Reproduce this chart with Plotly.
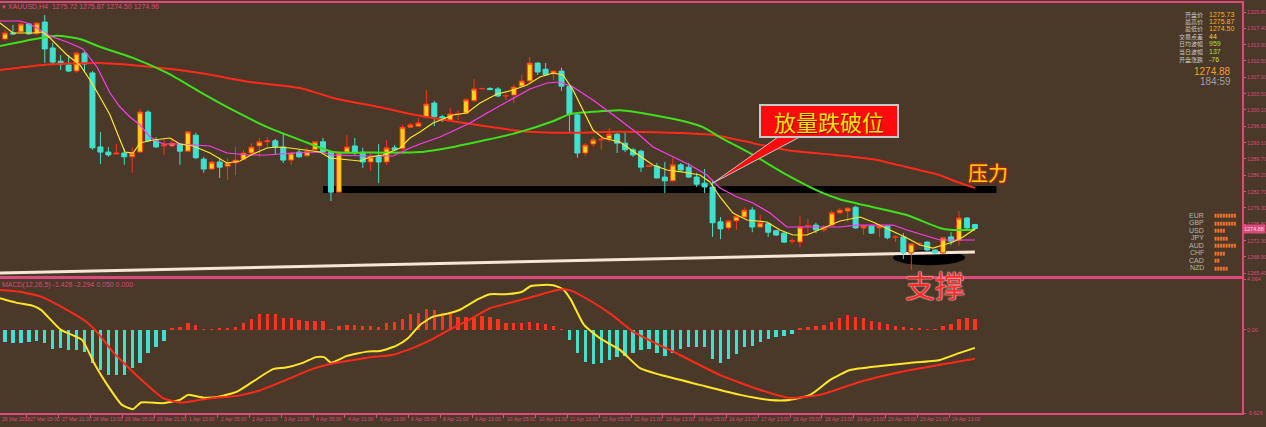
import plotly.graph_objects as go

BG = "#4a3829"
PINK = "#dc4a7c"
BULL_FILL = "#ffd21e"
BULL_LINE = "#ff3214"
BEAR = "#40e0d0"

# ---------------- candles (H4 XAUUSD) ----------------
bars = list(range(123))
opens = [1315.1,1316.4,1316.6,1318.3,1316.2,1318.7,1313.2,1310.4,1309.6,1308.3,1312.1,1307.9,1292.2,1291.1,1290.7,1290.9,1290.1,1291.1,1299.6,1293.5,
         1292.4,1292.4,1292.8,1291.3,1294.7,1289.6,1287.5,1289.0,1288.1,1288.8,1289.6,1290.9,1292.4,1293.3,1293.5,1292.2,1289.4,1291.1,1290.3,1291.6,
         1293.3,1291.1,1282.6,1291.1,1292.4,1291.1,1289.0,1290.3,1289.0,1292.0,1291.8,1296.4,1296.6,1298.6,1301.5,1298.6,1297.9,1299.2,1299.4,1302.0,
         1304.5,1304.6,1304.5,1303.0,1303.2,1305.1,1306.2,1310.0,1308.7,1307.7,1308.3,1305.1,1299.0,1290.9,1292.8,1293.7,1293.9,1294.9,1293.0,1291.6,
         1291.3,1288.1,1288.1,1285.8,1285.0,1288.4,1287.9,1285.8,1284.5,1283.7,1276.3,1275.0,1276.5,1277.3,1278.8,1275.2,1275.9,1274.4,1273.9,1272.2,
         1272.0,1275.4,1275.6,1274.6,1275.6,1278.2,1278.6,1279.4,1275.0,1275.4,1275.0,1275.4,1273.0,1273.1,1269.7,1271.6,1272.0,1270.3,1269.7,1273.1,
         1272.4,1277.1,1275.72]
highs = [1317.0,1318.1,1318.7,1318.5,1318.7,1320.2,1314.3,1311.7,1311.7,1312.4,1312.4,1308.3,1295.4,1292.2,1292.8,1291.8,1292.2,1300.3,1300.0,1294.3,
         1294.1,1294.1,1293.0,1295.6,1295.2,1290.1,1289.2,1289.9,1289.9,1292.2,1291.6,1293.0,1294.1,1294.3,1293.9,1295.2,1291.1,1291.6,1292.0,1293.3,
         1294.1,1291.3,1291.1,1294.7,1294.1,1292.0,1291.1,1292.8,1293.7,1292.6,1296.9,1297.3,1298.3,1304.3,1302.0,1299.0,1300.5,1300.0,1302.6,1306.6,
         1304.8,1304.9,1304.9,1303.6,1305.4,1307.5,1311.3,1310.2,1310.0,1308.5,1309.0,1305.4,1299.4,1293.0,1294.3,1294.1,1296.2,1295.2,1295.2,1292.0,
         1291.6,1288.4,1288.8,1289.0,1289.9,1288.8,1288.8,1286.7,1287.5,1285.2,1277.3,1276.7,1277.8,1279.4,1279.4,1277.8,1276.1,1274.6,1274.1,1272.9,
         1277.5,1276.9,1276.1,1275.6,1278.8,1279.2,1279.4,1279.7,1275.4,1275.6,1275.4,1275.4,1273.5,1273.9,1271.6,1272.0,1272.2,1270.5,1273.1,1274.1,
         1278.6,1277.3,1275.87]
lows = [1314.7,1316.0,1316.4,1316.0,1316.0,1310.0,1309.6,1308.5,1308.1,1307.9,1308.1,1291.6,1288.6,1290.1,1290.5,1288.4,1286.7,1291.0,1293.3,1292.0,
        1290.5,1292.2,1288.4,1291.1,1289.6,1286.7,1287.3,1285.6,1285.2,1286.2,1289.4,1290.7,1290.1,1292.2,1290.7,1288.8,1288.4,1289.9,1290.1,1291.3,
        1290.9,1280.7,1282.6,1290.9,1290.5,1287.7,1287.1,1284.5,1288.4,1291.3,1291.6,1296.2,1296.4,1298.3,1296.6,1297.5,1297.5,1297.9,1299.2,1301.7,
        1304.3,1304.2,1302.8,1302.2,1301.5,1304.9,1306.0,1307.5,1307.3,1306.4,1304.1,1295.4,1289.9,1290.3,1292.2,1291.6,1293.3,1290.9,1291.1,1290.1,
        1286.9,1287.9,1285.6,1282.4,1284.8,1287.1,1285.6,1283.7,1282.4,1273.1,1272.6,1274.6,1274.6,1277.1,1274.1,1275.0,1273.1,1273.3,1271.8,1271.6,
        1270.9,1273.7,1273.9,1274.1,1275.4,1278.0,1276.3,1274.8,1273.5,1273.7,1273.1,1272.6,1272.0,1268.4,1266.1,1271.2,1270.1,1269.5,1269.5,1271.4,
        1271.2,1274.8,1274.50]
closes = [1316.4,1316.2,1318.3,1316.2,1318.5,1313.0,1310.2,1309.8,1308.3,1312.1,1309.8,1292.0,1291.1,1290.5,1290.9,1290.1,1290.9,1299.6,1293.5,1292.2,
          1292.6,1293.0,1291.3,1295.4,1289.9,1287.5,1289.0,1287.9,1288.8,1289.4,1290.9,1292.2,1293.3,1293.5,1292.2,1289.4,1290.9,1290.1,1291.3,1293.3,
          1291.1,1282.6,1290.9,1292.2,1290.9,1289.0,1290.1,1289.0,1292.0,1291.6,1296.4,1296.9,1297.3,1301.3,1298.6,1297.9,1299.2,1299.3,1302.2,1304.5,
          1304.6,1304.4,1303.0,1303.1,1304.9,1306.2,1310.0,1308.1,1307.5,1308.3,1305.1,1299.2,1290.9,1292.6,1293.7,1293.8,1294.9,1293.0,1291.6,1290.5,
          1287.9,1288.2,1285.6,1285.0,1288.4,1287.3,1285.8,1284.3,1283.7,1276.1,1274.8,1276.5,1277.5,1278.8,1275.2,1276.1,1274.1,1273.5,1272.0,1272.3,
          1275.2,1275.5,1274.6,1275.0,1278.2,1278.8,1279.2,1275.0,1275.4,1273.9,1275.4,1272.9,1273.1,1269.7,1271.6,1271.7,1270.3,1269.7,1272.9,1272.2,
          1277.1,1275.0,1274.88]

# ---------------- moving averages ----------------
ma_red_x = [-0.63,4.8,11.9,18.2,24.5,30.8,37.1,41.3,47.5,52.2,64.8,71.1,77.4,83.6,89.3,94.1,98.4,104.4,109.2,113.5,117.6,119.7,122.0]
ma_red_y = [1308.5,1309.6,1310.0,1309.2,1307.9,1306.0,1304.7,1302.6,1300.5,1298.8,1295.6,1295.2,1295.4,1295.2,1294.7,1293.0,1291.5,1290.5,1289.6,1287.9,1286.2,1284.8,1283.5]

ma_green_x = [-0.63,6.5,9.4,12.0,16.1,20.4,24.5,28.7,33.0,37.1,41.3,45.5,52.2,56.4,60.6,64.8,69.0,71.1,75.2,77.4,81.5,85.8,87.8,89.9,94.1,98.4,102.6,105.0,109.2,113.5,117.6,118.9,122.0]
ma_green_y = [1313.6,1315.8,1315.1,1313.4,1311.1,1307.9,1303.9,1300.0,1296.4,1293.7,1291.1,1291.0,1291.1,1292.2,1293.7,1295.4,1297.7,1299.2,1299.8,1300.0,1299.0,1297.5,1296.4,1294.3,1290.5,1286.2,1282.6,1281.1,1279.4,1277.7,1275.0,1274.6,1274.6]

ma_mag_x = [-0.63,1.89,2.77,4.03,5.66,7.80,9.81,11.57,13.21,14.47,15.72,16.98,18.24,19.87,22.01,25.79,27.92,30.82,32.96,36.23,
            39.62,41.26,45.53,48.81,50.94,52.20,54.72,58.49,60.63,63.14,66.04,68.18,69.81,71.45,73.96,77.36,79.50,81.51,84.03,86.16,
            88.30,89.94,92.08,94.09,96.23,98.36,100.38,102.52,105.03,107.17,110.06,111.70,113.46,115.47,117.61,119.75,122.01]
ma_mag_y = [1318.93,1318.93,1318.51,1317.45,1315.75,1314.47,1312.99,1309.17,1303.65,1300.67,1298.55,1296.85,1294.30,1292.82,1292.82,1292.39,1290.91,1290.48,1290.48,1290.91,
            1291.12,1290.48,1290.27,1290.27,1291.97,1292.82,1294.30,1297.28,1299.40,1301.74,1304.50,1305.77,1305.98,1304.92,1302.16,1297.91,1295.15,1292.18,1290.06,1288.36,
            1286.24,1283.48,1281.57,1280.29,1278.17,1275.20,1275.20,1275.20,1275.20,1275.62,1275.62,1275.62,1274.56,1273.50,1272.44,1272.44,1272.44]

ma_yel_x = [-0.63,1.01,3.52,4.78,5.66,7.80,9.43,10.69,11.95,13.21,14.47,15.09,16.10,16.98,18.62,20.75,22.01,23.65,25.79,27.92,
            29.56,31.19,32.96,34.21,35.85,37.99,39.62,40.88,42.52,44.65,45.91,47.55,49.69,50.94,52.20,53.84,56.35,58.11,59.75,61.89,
            63.90,65.66,67.30,68.93,70.19,71.45,72.70,73.96,75.22,77.36,79.50,81.51,83.27,85.28,87.42,88.68,89.94,91.57,93.33,95.85,
            97.48,99.12,100.88,102.89,105.03,107.55,109.18,111.32,113.46,115.09,116.73,117.99,119.25,120.50,122.01]
ma_yel_y = [1318.51,1316.38,1316.38,1316.60,1315.32,1311.71,1309.59,1306.41,1302.80,1298.98,1293.67,1291.12,1290.91,1293.03,1293.67,1294.09,1292.82,1292.39,1290.91,1288.79,
            1289.21,1290.70,1291.97,1292.18,1291.97,1291.54,1291.12,1289.85,1289.63,1289.21,1290.06,1290.48,1291.97,1294.09,1295.37,1297.28,1298.98,1299.40,1301.52,1303.43,
            1304.28,1305.34,1307.04,1307.89,1307.47,1304.28,1300.04,1295.79,1294.09,1293.24,1290.70,1288.36,1287.30,1286.87,1286.24,1284.75,1281.57,1278.17,1276.68,1276.26,
            1274.56,1273.50,1273.50,1274.99,1276.47,1277.32,1276.26,1274.56,1272.86,1271.38,1270.74,1271.38,1272.01,1273.07,1274.77]

# ---------------- MACD ----------------
macd_hist = [-0.93,-1.06,-1.06,-0.93,-0.85,-1.06,-1.53,-1.46,-1.59,-1.59,-1.73,-2.65,-3.19,-3.58,-3.58,-3.58,-3.05,-2.65,-1.85,-1.33,
             -0.85,0.08,0.20,0.58,0.40,0.05,0.05,0.08,0.08,0.21,0.53,0.85,1.26,1.30,1.26,0.98,0.98,0.80,0.74,0.74,
             0.72,0.05,0.32,0.40,0.40,0.32,0.32,0.26,0.53,0.62,0.88,1.26,1.33,1.65,1.60,1.38,1.26,1.06,1.06,1.06,
             1.12,1.06,0.85,0.58,0.53,0.53,0.62,0.53,0.48,0.32,0.04,-0.79,-1.81,-2.52,-2.71,-2.61,-2.39,-2.17,-2.07,-1.81,
             -1.6,-1.5,-1.8,-2.1,-1.8,-1.5,-1.4,-1.4,-1.4,-2.3,-2.6,-2.3,-1.9,-1.4,-1.3,-0.95,-0.75,-0.55,-0.45,-0.3,
             0.1,0.2,0.3,0.4,0.65,0.95,1.2,1.05,0.95,0.75,0.65,0.45,0.35,0.2,0.1,0.1,0.05,0.05,0.3,0.45,
             0.85,0.95,0.86]
macd_main_x = [-0.63,1.38,3.52,4.53,7.04,9.69,11.19,12.70,14.72,16.10,17.11,19.87,22.01,23.02,25.03,27.04,29.18,31.19,33.71,35.35,
               37.36,39.12,40.13,41.01,43.02,45.53,47.17,49.18,50.69,52.20,53.84,55.85,57.36,59.50,61.01,63.02,65.03,66.16,67.67,68.93,
               70.19,71.19,72.83,74.84,77.36,79.87,82.4,87.4,92.5,96.2,98.7,101.3,103.8,106.3,110.1,113.8,117.6,120.1,122.0]
macd_main_y = [2.53,2.18,1.92,1.60,0.0,-0.79,-2.63,-4.22,-5.98,-6.32,-5.79,-5.84,-5.58,-5.18,-5.40,-5.31,-4.92,-4.12,-3.13,-3.0,
               -2.65,-2.17,-2.17,-2.61,-2.07,-1.73,-1.68,-1.27,-0.66,0.40,1.06,1.33,1.65,2.45,2.85,2.85,3.05,3.51,3.59,3.57,
               3.25,2.40,0.40,-0.66,-1.59,-3.05,-3.58,-4.38,-5.18,-5.58,-5.58,-5.18,-3.99,-3.19,-2.87,-2.63,-2.39,-1.83,-1.43]
macd_sig_x = [-0.63,1.89,4.53,7.04,10.19,11.70,13.71,15.85,17.86,19.87,22.01,24.03,26.04,29.18,32.20,35.35,38.36,40.50,45.53,48.68,
              50.69,53.33,55.85,58.36,61.01,64.03,66.16,69.18,70.19,71.19,73.84,76.35,79.0,84.9,89.9,95.0,98.7,102.5,107.5,112.6,
              117.6,122.0]
macd_sig_y = [3.19,3.05,2.66,1.86,0.67,-0.27,-1.85,-3.19,-4.38,-5.44,-5.79,-5.63,-5.44,-5.26,-4.79,-3.99,-3.19,-2.78,-2.21,-2.0,
              -1.59,-0.88,0.0,0.80,1.73,2.25,2.61,3.14,3.25,3.14,2.25,1.20,-0.13,-2.0,-3.58,-4.79,-5.42,-5.18,-4.15,-3.35,
              -2.78,-2.29]

# ---------------- axes text ----------------
price_ticks = [1320.80,1317.40,1313.90,1310.50,1307.00,1303.50,1300.10,1296.60,1293.10,1289.70,1286.20,1282.70,1279.30,1275.80,1272.30,1268.90,1265.40]
macd_ticks = [4.064, 0.0, -6.626]
macd_tick_text = ["4.064", "0.00", "-6.626"]
time_tick_bars = [4 * k - 1.25 for k in range(31)]
time_labels = ["26 Mar 2018","27 Mar 05:00","27 Mar 21:00","28 Mar 13:00","29 Mar 05:00","29 Mar 21:00","1 Apr 13:00",
               "2 Apr 05:00","2 Apr 21:00","3 Apr 13:00","4 Apr 05:00","4 Apr 21:00","5 Apr 13:00","6 Apr 05:00",
               "8 Apr 21:00","9 Apr 13:00","10 Apr 05:00","10 Apr 21:00","11 Apr 13:00","12 Apr 05:00","12 Apr 21:00",
               "13 Apr 13:00","16 Apr 05:00","16 Apr 21:00","17 Apr 13:00","18 Apr 05:00","18 Apr 21:00","19 Apr 13:00",
               "23 Apr 05:00","23 Apr 21:00","24 Apr 13:00"]

# ---------------- drawings ----------------
support_level = 1283.16
support_bar_start, support_bar_end = 40.0, 124.7
trend_bars = [-0.63, 122.0]
trend_prices = [1265.43, 1269.89]

info_labels = ["开盘价", "最高价", "最低价", "交易点差", "日均波幅", "当日波幅", "开盘涨跌"]
info_values = ["1275.73", "1275.87", "1274.50", "44", "959", "137", "-76"]
info_colors = ["#f5b41e", "#f5b41e", "#f5b41e", "#d2e03c", "#a8e032", "#a8e032", "#c8e03c"]
last_price = 1274.88
timer_text = "184:59"

currencies = ["EUR", "GBP", "USD", "JPY", "AUD", "CHF", "CAD", "NZD"]
strength = [8, 8, 4, 5, 8, 4, 2, 5]

PLOT_TOP, PLOT_BOTTOM = 3, 413
PLOT_H = PLOT_BOTTOM - PLOT_TOP


def py(pix):
    """pixel row -> paper y"""
    return (PLOT_BOTTOM - pix) / PLOT_H


fig = go.Figure()

# main panel traces
fig.add_trace(go.Candlestick(
    x=bars, open=opens, high=highs, low=lows, close=closes,
    xaxis="x2", yaxis="y",
    increasing=dict(line=dict(color=BULL_LINE, width=1), fillcolor=BULL_FILL),
    decreasing=dict(line=dict(color=BEAR, width=1), fillcolor=BEAR),
    whiskerwidth=0, hoverinfo="skip", showlegend=False))
fig.add_trace(go.Scatter(x=ma_red_x, y=ma_red_y, mode="lines", line=dict(color="#ff2a1a", width=2, shape="spline", smoothing=0.6),
                         xaxis="x2", yaxis="y", showlegend=False, hoverinfo="skip"))
fig.add_trace(go.Scatter(x=ma_green_x, y=ma_green_y, mode="lines", line=dict(color="#3ee01e", width=2, shape="spline", smoothing=0.6),
                         xaxis="x2", yaxis="y", showlegend=False, hoverinfo="skip"))
fig.add_trace(go.Scatter(x=ma_mag_x, y=ma_mag_y, mode="lines", line=dict(color="#ff3cf0", width=1.2),
                         xaxis="x2", yaxis="y", showlegend=False, hoverinfo="skip"))
fig.add_trace(go.Scatter(x=ma_yel_x, y=ma_yel_y, mode="lines", line=dict(color="#ffe628", width=1.2),
                         xaxis="x2", yaxis="y", showlegend=False, hoverinfo="skip"))

# MACD traces
fig.add_trace(go.Bar(x=bars, y=macd_hist, width=0.42,
                     marker=dict(color=["#ff3420" if v >= 0 else BEAR for v in macd_hist], line=dict(width=0)),
                     xaxis="x", yaxis="y2", showlegend=False, hoverinfo="skip"))
fig.add_trace(go.Scatter(x=macd_main_x, y=macd_main_y, mode="lines", line=dict(color="#ffe628", width=2, shape="spline", smoothing=0.5),
                         xaxis="x", yaxis="y2", showlegend=False, hoverinfo="skip"))
fig.add_trace(go.Scatter(x=macd_sig_x, y=macd_sig_y, mode="lines", line=dict(color="#ff2a1a", width=2, shape="spline", smoothing=0.5),
                         xaxis="x", yaxis="y2", showlegend=False, hoverinfo="skip"))

# shapes
shapes = [
    dict(type="line", xref="x2", yref="y", x0=support_bar_start, x1=support_bar_end, y0=support_level, y1=support_level,
         line=dict(color="#000000", width=7), layer="below"),
    dict(type="circle", xref="x2", yref="y", x0=111.7, x1=120.75, y0=1267.1, y1=1270.3,
         fillcolor="#000000", line=dict(width=0), layer="below"),
    dict(type="line", xref="x2", yref="y", x0=trend_bars[0], x1=trend_bars[1], y0=trend_prices[0], y1=trend_prices[1],
         line=dict(color="#f5e6d6", width=3), layer="below"),
    dict(type="path", xref="x2", yref="y",
         path="M 89.06,1284.54 L 97.74,1294.9 L 100.63,1294.9 Z",
         fillcolor="#ff0a0a", line=dict(color="#c8c8c8", width=1), layer="above"),
]

ann = []
# callout box
ann.append(dict(xref="x2", yref="y", x=103.6, y=1297.7, text="放量跌破位", showarrow=False,
                xanchor="center", yanchor="middle",
                font=dict(family="Noto Sans CJK SC", size=22, color="#ffe600", shadow="1px 1px 1px #900000"),
                bgcolor="#ff0a0a", bordercolor="#c8c8c8", borderwidth=2, borderpad=2, width=132, height=26))
ann.append(dict(xref="x2", yref="y", x=123.6, y=1286.7, text="压力", showarrow=False,
                xanchor="center", yanchor="middle",
                font=dict(family="Noto Sans CJK SC", size=20, color="#ffd000", shadow="0 0 3px #ff2000, 0 0 2px #ff2000")))
ann.append(dict(xref="paper", yref="paper", x=935 / 1242, y=py(284), text="支撑", showarrow=False,
                xanchor="center", yanchor="middle",
                font=dict(family="Noto Sans CJK SC", size=30, color="#ff2a2a", shadow="0 0 2px #ffd0d0, 0 0 1px #ffffff")))

# header texts
ann.append(dict(xref="paper", yref="paper", x=0.0, y=py(6), xanchor="left", yanchor="middle", showarrow=False,
                text="▾ XAUUSD,H4  1275.72 1275.87 1274.50 1274.96",
                font=dict(family="Liberation Sans", size=7, color=PINK)))
ann.append(dict(xref="paper", yref="paper", x=0.0, y=py(285), xanchor="left", yanchor="middle", showarrow=False,
                text="MACD(12,26,5) -1.428 -2.294 0.050 0.000",
                font=dict(family="Liberation Sans", size=7, color=PINK)))

# info panel
info_rows = [14, 21.5, 29, 36.5, 44, 51.5, 59]
for lab, val, col, r in zip(info_labels, info_values, info_colors, info_rows):
    ann.append(dict(xref="paper", yref="paper", x=1205 / 1242, y=py(r), xanchor="right", yanchor="middle", showarrow=False,
                    text=lab, font=dict(family="Noto Sans CJK SC", size=6, color="#c8c8c8")))
    ann.append(dict(xref="paper", yref="paper", x=1207 / 1242, y=py(r), xanchor="left", yanchor="middle", showarrow=False,
                    text=val, font=dict(family="Liberation Sans", size=7, color=col)))
ann.append(dict(xref="paper", yref="paper", x=1233 / 1242, y=py(71), xanchor="right", yanchor="middle", showarrow=False,
                text=f"{last_price:.2f}", font=dict(family="Liberation Sans", size=10, color="#f0a030")))
ann.append(dict(xref="paper", yref="paper", x=1233 / 1242, y=py(81.5), xanchor="right", yanchor="middle", showarrow=False,
                text=timer_text, font=dict(family="Liberation Sans", size=10, color="#a0a0a0")))

# currency strength panel
cur_rows = [215, 222.5, 230, 237.5, 245, 252.5, 260, 267.5]
for cur, s, r in zip(currencies, strength, cur_rows):
    ann.append(dict(xref="paper", yref="paper", x=1206 / 1242, y=py(r), xanchor="right", yanchor="middle", showarrow=False,
                    text=cur, font=dict(family="Liberation Sans", size=7, color="#b4b4b4")))
    ann.append(dict(xref="paper", yref="paper", x=1212 / 1242, y=py(r), xanchor="left", yanchor="middle", showarrow=False,
                    text="▮" * s, font=dict(family="DejaVu Sans", size=5, color="#f07828")))

# current price tag
ann.append(dict(xref="paper", yref="y", x=1.0, y=last_price, xanchor="left", yanchor="middle", showarrow=False,
                text=f"{last_price:.2f}", bgcolor=PINK, borderpad=1,
                font=dict(family="Liberation Sans", size=5.5, color="#ffd8e4")))

# time labels (first one sits at the left edge, before the first bar)
for k, (b, lab) in enumerate(zip(time_tick_bars, time_labels)):
    if k == 0:
        ann.append(dict(xref="paper", yref="paper", x=0.0, y=py(419), xanchor="left", yanchor="middle", xshift=0,
                        showarrow=False, text=lab, font=dict(family="Liberation Sans", size=5, color=PINK)))
    else:
        ann.append(dict(xref="x", yref="paper", x=b, y=py(419), xanchor="left", yanchor="middle", xshift=1, showarrow=False,
                        text=lab, font=dict(family="Liberation Sans", size=5, color=PINK)))

fig.update_layout(
    width=1266, height=427,
    margin=dict(l=0, r=24, t=PLOT_TOP, b=427 - PLOT_BOTTOM, pad=0, autoexpand=False),
    paper_bgcolor=BG, plot_bgcolor=BG,
    boxgap=0.37, boxgroupgap=0, bargap=0,
    showlegend=False,
    shapes=shapes, annotations=ann,
    xaxis=dict(domain=[0, 1], anchor="y2", range=[-0.63, 155.6], showgrid=False, zeroline=False, automargin=False,
               showline=True, linecolor=PINK, linewidth=2, mirror=True,
               ticks="outside", ticklen=3, tickcolor=PINK, tickvals=time_tick_bars, showticklabels=False,
               rangeslider=dict(visible=False), fixedrange=True),
    xaxis2=dict(domain=[0, 1], anchor="y", matches="x", showgrid=False, zeroline=False, automargin=False,
                showline=True, linecolor=PINK, linewidth=2, mirror=True, ticks="", showticklabels=False,
                rangeslider=dict(visible=False)),
    yaxis=dict(domain=[py(276), 1], anchor="x2", side="right", range=[1264.8, 1322.75], showgrid=False, zeroline=False,
               automargin=False, showline=True, linecolor=PINK, linewidth=2, ticks="outside", ticklen=2, tickcolor=PINK,
               tickvals=price_ticks, ticktext=[f"{p:.2f}" for p in price_ticks],
               tickfont=dict(family="Liberation Sans", size=5.5, color=PINK)),
    yaxis2=dict(domain=[0, py(279)], anchor="x", side="right", range=[-6.626, 4.064], showgrid=False, zeroline=False,
                automargin=False, showline=True, linecolor=PINK, linewidth=2, ticks="outside", ticklen=2, tickcolor=PINK,
                tickvals=macd_ticks, ticktext=macd_tick_text,
                tickfont=dict(family="Liberation Sans", size=5.5, color=PINK)),
)

# remove the default 8px page margin so the figure sits at the window's top-left corner
fig.write_html("out.html", config={"displayModeBar": False},
               post_script="document.body.style.margin='0';document.body.style.background='" + BG + "';")
